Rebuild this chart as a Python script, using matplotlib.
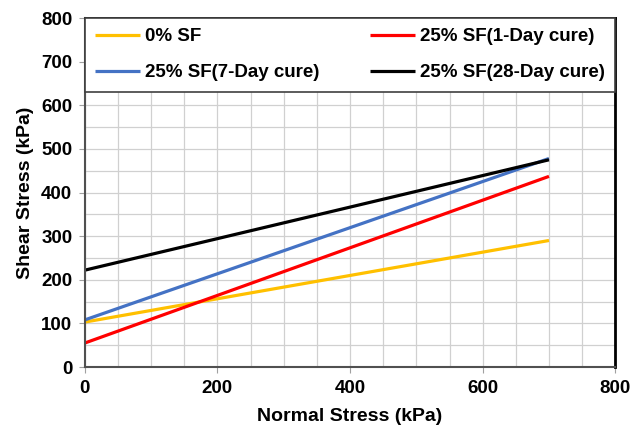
import matplotlib
matplotlib.use("Agg")
import matplotlib.pyplot as plt
from matplotlib.ticker import MultipleLocator

x_vals = [0, 700]
sf0 = [103, 290]
sf25_1d = [55, 437]
sf25_7d = [108, 478]
sf25_28d = [222, 475]

labels = ["0% SF", "25% SF(1-Day cure)", "25% SF(7-Day cure)", "25% SF(28-Day cure)"]
colors = ["#FFC000", "#FF0000", "#4472C4", "#000000"]

plt.rcParams['font.family'] = ['Liberation Sans', 'DejaVu Sans']
plt.rcParams['font.weight'] = 'bold'

fig = plt.figure(figsize=(6.33, 4.29), dpi=100)
ax = fig.add_axes([0.134, 0.1445, 0.838, 0.8135])

series = [sf0, sf25_1d, sf25_7d, sf25_28d]
lines = []
for s, lab, c in zip(series, labels, colors):
    ln, = ax.plot(x_vals, s, color=c, lw=2.3, label=lab, solid_capstyle='butt')
    lines.append(ln)

ax.set_xlim(0, 800)
ax.set_ylim(0, 800)
ax.xaxis.set_major_locator(MultipleLocator(200))
ax.yaxis.set_major_locator(MultipleLocator(100))
ax.xaxis.set_minor_locator(MultipleLocator(50))
ax.yaxis.set_minor_locator(MultipleLocator(50))
ax.grid(which='both', color='#d0d0d0', lw=0.9)
ax.set_axisbelow(True)
ax.tick_params(which='minor', length=0)
ax.tick_params(which='major', length=4, color='#a0a0a0', labelsize=13.5, pad=5)
for lab in ax.get_xticklabels() + ax.get_yticklabels():
    lab.set_fontweight('bold')

for side in ['top', 'right']:
    ax.spines[side].set_color('black')
    ax.spines[side].set_linewidth(2.0)
for side in ['left', 'bottom']:
    ax.spines[side].set_color('#505050')
    ax.spines[side].set_linewidth(1.5)

ax.set_xlabel("Normal Stress (kPa)", fontsize=14, fontweight='bold', labelpad=8)
ax.set_ylabel("Shear Stress (kPa)", fontsize=14, fontweight='bold', labelpad=5)

order = [0, 2, 1, 3]
leg = ax.legend([lines[i] for i in order], [labels[i] for i in order],
                ncol=2, loc='upper left', bbox_to_anchor=(0, 1, 1, 0),
                mode='expand', borderaxespad=0, fancybox=False, framealpha=1,
                edgecolor='#404040', handlelength=2.4,
                handletextpad=0.25, labelspacing=1.0, borderpad=0.55,
                prop={'weight': 'bold', 'size': 13.5})
leg.get_frame().set_linewidth(1.2)

fig.savefig("out.png", dpi=100)
